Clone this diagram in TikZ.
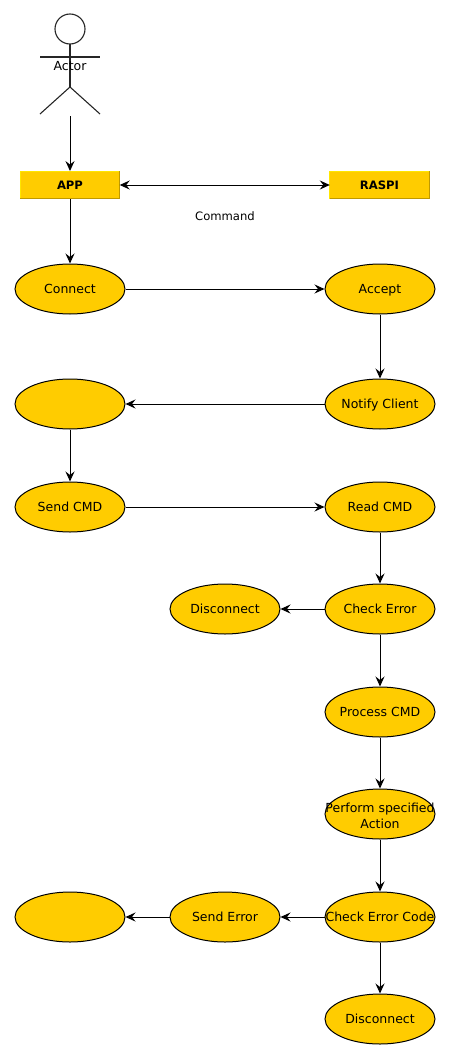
\documentclass[tikz,border=0pt]{standalone}
\usepackage{fontspec}
\setmainfont{DejaVu Sans}
\usetikzlibrary{shapes.geometric,arrows.meta}
\definecolor{stepfill}{HTML}{FFCC00}
\definecolor{boxlight}{HTML}{FFE600}
\definecolor{boxdark}{HTML}{BF9900}
\newcommand{\stepstrut}{\rule[-3.5pt]{0pt}{16pt}}
\tikzset{
  stepnode/.style={ellipse, draw=black, fill=stepfill, line width=1pt, minimum width=110pt, minimum height=50pt, inner xsep=-20pt, inner ysep=0pt, align=center, font=\fontsize{12.5}{16}\selectfont, execute at begin node=\stepstrut, execute at end node=\stepstrut},
  boxnode/.style={rectangle, fill=stepfill, minimum width=99pt, minimum height=27.5pt, inner sep=0pt, font=\fontsize{11.6}{16}\selectfont\bfseries,
    append after command={
      \pgfextra{\let\boxname\tikzlastnode}
      (\boxname.south west) edge[draw=boxlight, line width=1pt] (\boxname.north west)
      (\boxname.north west) edge[draw=boxlight, line width=1pt] (\boxname.north east)
      (\boxname.north east) edge[draw=boxdark, line width=1pt] (\boxname.south east)
      (\boxname.south east) edge[draw=boxdark, line width=1pt] (\boxname.south west)}},
  plaintext/.style={inner sep=0pt, font=\fontsize{11.6}{16}\selectfont},
  figure/.style={draw=black!85, line width=1.1pt},
  flow/.style={->, line width=1pt}
}
\begin{document}
\begin{tikzpicture}[x=1pt, y=-1pt, >={Stealth[length=10pt,width=9pt,inset=3.5pt]}]
    \useasboundingbox (0,0) rectangle (452,1060);

    % actor
    \draw[figure] (70,29) circle[radius=15pt];
    \draw[figure] (70,44) -- (70,87);
    \draw[figure] (40,57) -- (100,57);
    \draw[figure] (40,114) -- (70,87) -- (100,114);
    \node[plaintext, font=\fontsize{12.5}{16}\selectfont] (actor) at (70,66) {Actor};
    \coordinate (actorfoot) at (70,116);

    \node[boxnode] (app) at (70,185) {APP};
    \node[boxnode] (raspi) at (379.5,185) {RASPI};
    \node[plaintext] (command) at (225,216) {Command};

    \node[stepnode] (connect) at (70,289) {Connect};
    \node[stepnode] (accept) at (380,289) {Accept};
    \node[stepnode] (reply) at (70,404) {};
    \node[stepnode] (notify) at (380,404) {Notify Client};
    \node[stepnode] (send) at (70,507) {Send CMD};
    \node[stepnode] (read) at (380,507) {Read CMD};
    \node[stepnode] (quit) at (225,609) {Disconnect};
    \node[stepnode] (check) at (380,609) {Check Error};
    \node[stepnode] (process) at (380,712) {Process CMD};
    \node[stepnode] (perform) at (380,814) {\rule{0pt}{15.5pt}Perform specified\\Action};
    \node[stepnode] (result) at (70,917) {};
    \node[stepnode] (senderr) at (225,917) {Send Error};
    \node[stepnode] (code) at (380,917) {Check Error Code};
    \node[stepnode] (close) at (380,1019) {Disconnect};

    \draw[flow] (actorfoot) -- (app);
    \draw[flow, <->] (app) -- (raspi);
    \draw[flow] (app) -- (connect);
    \draw[flow] (connect) -- (accept);
    \draw[flow] (accept) -- (notify);
    \draw[flow] (notify) -- (reply);
    \draw[flow] (reply) -- (send);
    \draw[flow] (send) -- (read);
    \draw[flow] (read) -- (check);
    \draw[flow] (check) -- (quit);
    \draw[flow] (check) -- (process);
    \draw[flow] (process) -- (perform);
    \draw[flow] (perform) -- (code);
    \draw[flow] (code) -- (senderr);
    \draw[flow] (senderr) -- (result);
    \draw[flow] (code) -- (close);
  \end{tikzpicture}
\end{document}
